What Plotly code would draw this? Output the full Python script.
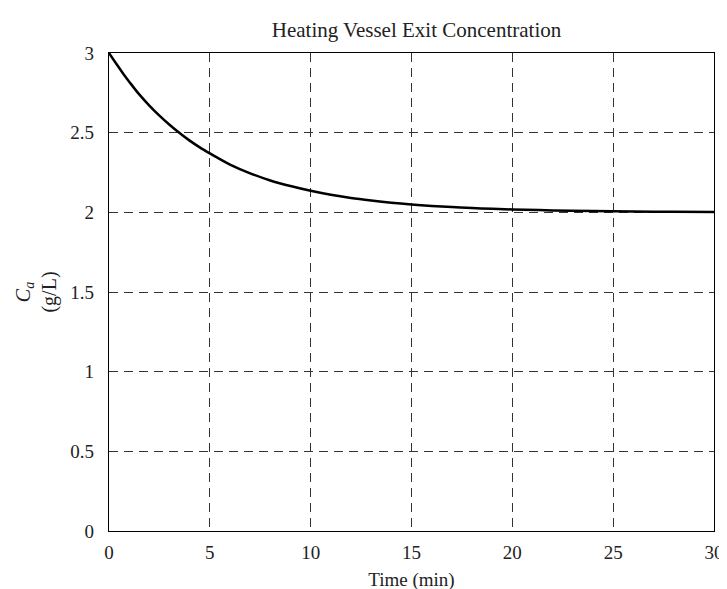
import plotly.graph_objects as go

# Time (min)
time_min = [0, 0.25, 0.5, 0.75, 1, 1.5, 2, 2.5, 3, 3.5, 4, 4.5, 5, 5.5, 6, 7, 8, 9, 10,
            11, 12, 13, 14, 15, 16, 17, 18, 19, 20, 22, 24, 26, 28, 30]
# Exit concentration Ca (g/L)
conc = [3.00, 2.953, 2.907, 2.862, 2.82, 2.74, 2.67, 2.607, 2.55, 2.498, 2.45, 2.408,
        2.37, 2.334, 2.30, 2.245, 2.20, 2.165, 2.135, 2.11, 2.09, 2.074, 2.06, 2.049,
        2.04, 2.033, 2.027, 2.022, 2.018, 2.012, 2.008, 2.005, 2.003, 2.002]

x_ticks = [0, 5, 10, 15, 20, 25, 30]
y_ticks = [0, 0.5, 1, 1.5, 2, 2.5, 3]
y_tick_text = ["0", "0.5", "1", "1.5", "2", "2.5", "3"]

FONT = "Liberation Serif"
TXT = "#222"

fig = go.Figure()
fig.add_trace(go.Scatter(x=time_min, y=conc, mode="lines",
                         line=dict(color="black", width=2.5, shape="spline", smoothing=1.0),
                         showlegend=False, hoverinfo="skip"))

fig.update_layout(
    width=727, height=589,
    margin=dict(l=101, r=11, t=45, b=58),
    paper_bgcolor="white", plot_bgcolor="white",
    font=dict(family=FONT, color=TXT, size=19),
    title=dict(text="Heating Vessel Exit Concentration", x=408.5 / 727, xanchor="center",
               y=1 - 22 / 589, yanchor="middle",
               font=dict(family=FONT, size=21, color=TXT)),
)
fig.update_xaxes(range=[0, 30], tickvals=x_ticks, ticks="outside", ticklen=4,
                 tickcolor="rgba(0,0,0,0)", showline=True, linecolor="black",
                 linewidth=1.2, mirror=True, showgrid=True, gridcolor="#333",
                 gridwidth=1, griddash="9px,6px", zeroline=False,
                 tickfont=dict(family=FONT, size=19, color=TXT),
                 title=dict(text="Time (min)", font=dict(family=FONT, size=19, color=TXT),
                            standoff=10))
fig.update_yaxes(range=[0, 3], tickvals=y_ticks, ticktext=y_tick_text, ticks="outside",
                 ticklen=10, tickcolor="rgba(0,0,0,0)", showline=True, linecolor="black",
                 linewidth=1.2, mirror=True, showgrid=True, gridcolor="#333",
                 gridwidth=1, griddash="9px,6px", zeroline=False,
                 tickfont=dict(family=FONT, size=19, color=TXT),
                 title=dict(text="<i>C<sub>a</sub></i><br>(g/L)",
                            font=dict(family=FONT, size=20, color=TXT), standoff=8))

fig.write_html("out.html")
